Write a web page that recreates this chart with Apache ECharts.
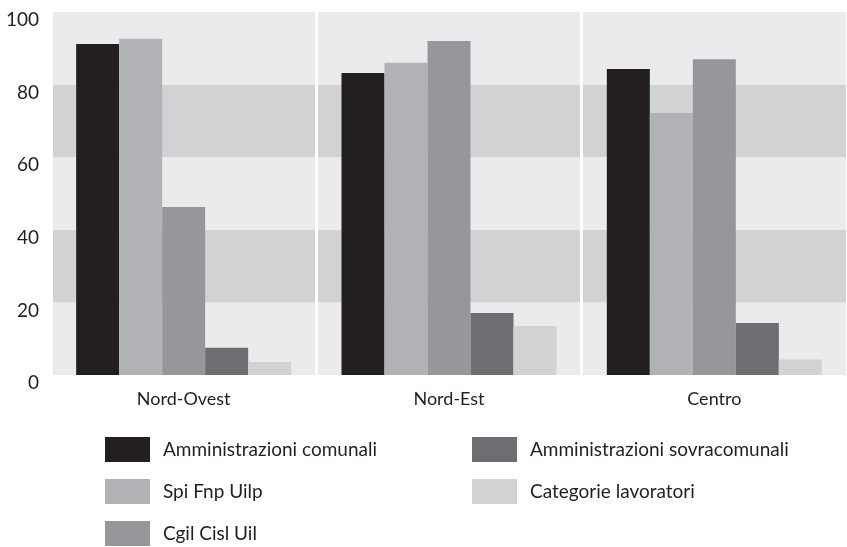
<!DOCTYPE html>
<html>
<head>
  <meta charset="utf-8">
  <script src="https://cdn.jsdelivr.net/npm/echarts@6/dist/echarts.min.js"></script>
  <style>
    html, body { margin: 0; padding: 0; background: #fff; }
  </style>
</head>
<body>
  <div id="chart" style="width: 847px; height: 547px;"></div>

  <script type="text/javascript">
    // dati
    var categories = ['Nord-Ovest', 'Nord-Est', 'Centro'];
    var seriesNames = [
      'Amministrazioni comunali',
      'Spi Fnp Uilp',
      'Cgil Cisl Uil',
      'Amministrazioni sovracomunali',
      'Categorie lavoratori'
    ];
    var comunali = [91.2, 83.2, 84.3];
    var spi = [92.6, 86.0, 72.2];
    var cgil = [46.3, 92.0, 87.0];
    var sovracomunali = [7.5, 17.1, 14.3];
    var categorieLav = [3.6, 13.5, 4.3];
    var yTicks = [0, 20, 40, 60, 80, 100];

    var colors = ['#231f20', '#b1b2b5', '#96979a', '#6d6e71', '#d1d2d4'];
    var values = [comunali, spi, cgil, sovracomunali, categorieLav];

    var series = [];
    for (var i = 0; i < seriesNames.length; i++) {
      series.push({
        name: seriesNames[i],
        type: 'bar',
        data: values[i],
        barWidth: 43,
        barGap: '0%',
        itemStyle: { color: colors[i] },
        emphasis: { disabled: true }
      });
    }

    var legendText = {
      fontFamily: 'Lato, sans-serif',
      fontSize: 19,
      color: '#231f20',
      padding: [0, 0, 0, 8]
    };

    function makeLegend(names, left) {
      return {
        data: names,
        orient: 'vertical',
        left: left,
        top: 437,
        padding: 0,
        itemWidth: 45,
        itemHeight: 25,
        itemGap: 17,
        icon: 'rect',
        selectedMode: false,
        textStyle: legendText
      };
    }

    var myChart = echarts.init(document.getElementById('chart'));
    var option = {
      animation: false,
      grid: { left: 51, right: 0, top: 12, bottom: 172 },
      legend: [makeLegend(seriesNames.slice(0, 3), 105), makeLegend(seriesNames.slice(3), 472)],
      xAxis: {
        type: 'category',
        data: categories,
        axisLine: { show: false },
        axisTick: { show: false },
        axisLabel: {
          margin: 15,
          fontFamily: 'Lato, sans-serif',
          fontSize: 18,
          color: '#231f20'
        },
        splitLine: {
          show: true,
          lineStyle: { color: '#ffffff', width: 3 }
        }
      },
      yAxis: {
        type: 'value',
        min: yTicks[0],
        max: yTicks[yTicks.length - 1],
        interval: 20,
        axisLine: { show: false },
        axisTick: { show: false },
        splitLine: { show: false },
        splitArea: {
          show: true,
          areaStyle: { color: ['#ebebed', '#d1d2d4'] }
        },
        axisLabel: {
          margin: 12,
          verticalAlign: 'top',
          lineHeight: 16,
          fontFamily: 'Lato, sans-serif',
          fontSize: 19,
          color: '#231f20'
        }
      },
      series: series
    };
    myChart.setOption(option);
  </script>
</body>
</html>
